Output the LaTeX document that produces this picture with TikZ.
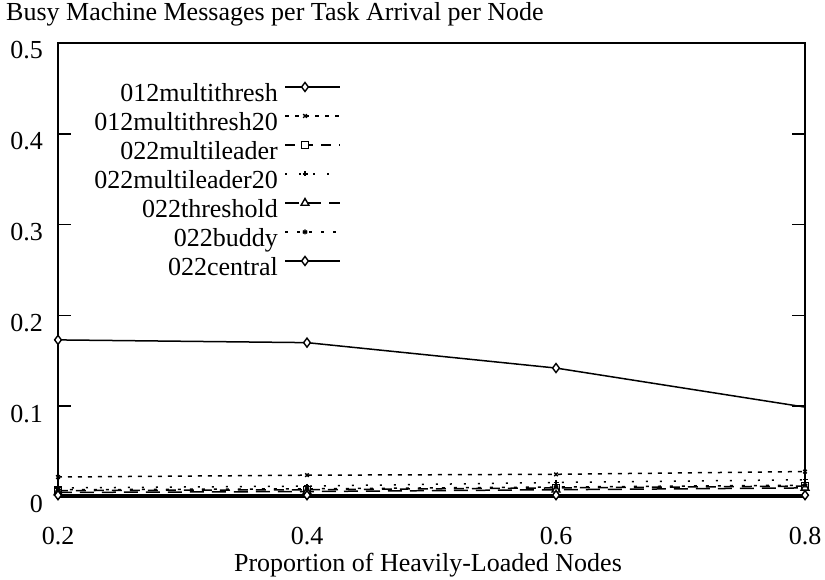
\documentclass[tikz,border=0pt]{standalone}
\usepackage{fontspec}
\setmainfont{Liberation Serif}
\usetikzlibrary{plotmarks}
\definecolor{plotBlack}{gray}{0}

\begin{document}
\begin{tikzpicture}[x=1pt, y=1pt, font=\fontsize{26}{30}\selectfont,
    frameline/.style={line width=1.6pt, plotBlack},
    ticklab/.style={anchor=base east, inner sep=0pt},
    xlab/.style={anchor=base, inner sep=0pt},
    keylab/.style={anchor=base east, inner sep=0pt},
    series/.style={line width=1.5pt, plotBlack, mark options={solid, fill=white, line width=1.4pt}},
    sMultiThresh/.style={series, mark=diamond*, mark size=4.5pt},
    sMultiThreshB/.style={series, dash pattern=on 4pt off 6pt, mark=x, mark size=2.5pt},
    sMultiLeader/.style={series, dash pattern=on 10pt off 8pt, mark=square*, mark size=3.5pt},
    sMultiLeaderB/.style={series, dash pattern=on 2pt off 12pt, mark=+, mark size=2.5pt},
    sThreshold/.style={series, dash pattern=on 14pt off 8pt, mark=triangle*, mark size=4.5pt},
    sBuddy/.style={series, dash pattern=on 3pt off 9pt, mark=asterisk, mark size=2.5pt},
    sCentral/.style={series, mark=diamond*, mark size=4.5pt}]
    \useasboundingbox (0,0) rectangle (825,580);

    % title
    \node[anchor=base west, inner sep=0pt] (title) at (6,559) {Busy Machine Messages per Task Arrival per Node};

    % frame
    \coordinate (BL) at (58,83);
    \coordinate (TR) at (805,537);
    \draw[frameline] (BL) rectangle (TR);

    % y axis
    \foreach \v/\lab in {0/0, 1/0.1, 2/0.2, 3/0.3, 4/0.4, 5/0.5} {
        \node[ticklab] (ylab\v) at (43,{83+\v*90.8-16}) {\lab};
    }
    \foreach \v in {1,2,3,4} {
        \draw[frameline] (58,{83+\v*90.8}) -- (71,{83+\v*90.8});
        \draw[frameline] (792,{83+\v*90.8}) -- (805,{83+\v*90.8});
    }

    % x axis
    \foreach \px/\lab in {58/0.2, 307/0.4, 556/0.6, 805/0.8} {
        \node[xlab] (xlab\px) at (\px,35) {\lab};
    }
    \draw[frameline] (307,83) -- (307,96);
    \draw[frameline] (556,83) -- (556,96);
    \node[xlab] (xtitle) at (428,8) {Proportion of Heavily-Loaded Nodes};

    % data
    \begin{scope}[shift={(-191pt,83pt)}, x=1245pt, y=908pt]
        \draw[sMultiThresh, mark indices={1,2,3}] plot coordinates {(0.2,0.173) (0.4,0.170) (0.6,0.142) (0.8,0.099)};
        \draw[sMultiThreshB] plot coordinates {(0.2,0.022) (0.4,0.024) (0.6,0.025) (0.8,0.028)};
        \draw[sMultiLeader] plot coordinates {(0.2,0.007) (0.4,0.008) (0.6,0.010) (0.8,0.012)};
        \draw[sMultiLeaderB] plot coordinates {(0.2,0.010) (0.4,0.012) (0.6,0.016) (0.8,0.019)};
        \draw[sThreshold] plot coordinates {(0.2,0.005) (0.4,0.006) (0.6,0.008) (0.8,0.010)};
        \draw[sBuddy] plot coordinates {(0.2,0.008) (0.4,0.009) (0.6,0.011) (0.8,0.013)};
        \draw[sCentral] plot coordinates {(0.2,0.002) (0.4,0.002) (0.6,0.002) (0.8,0.002)};
    \end{scope}

    % key
    \foreach \k/\st/\lab in {0/sMultiThresh/012multithresh, 1/sMultiThreshB/012multithresh20,
            2/sMultiLeader/022multileader, 3/sMultiLeaderB/022multileader20,
            4/sThreshold/022threshold, 5/sBuddy/022buddy, 6/sCentral/022central} {
        \node[keylab] (key\k) at (278,{478-29*\k}) {\lab};
        \draw[\st] (285,{493-29*\k}) -- (340,{493-29*\k});
        \draw[\st] plot coordinates {(305,{493-29*\k})};
    }
\end{tikzpicture}
\end{document}
